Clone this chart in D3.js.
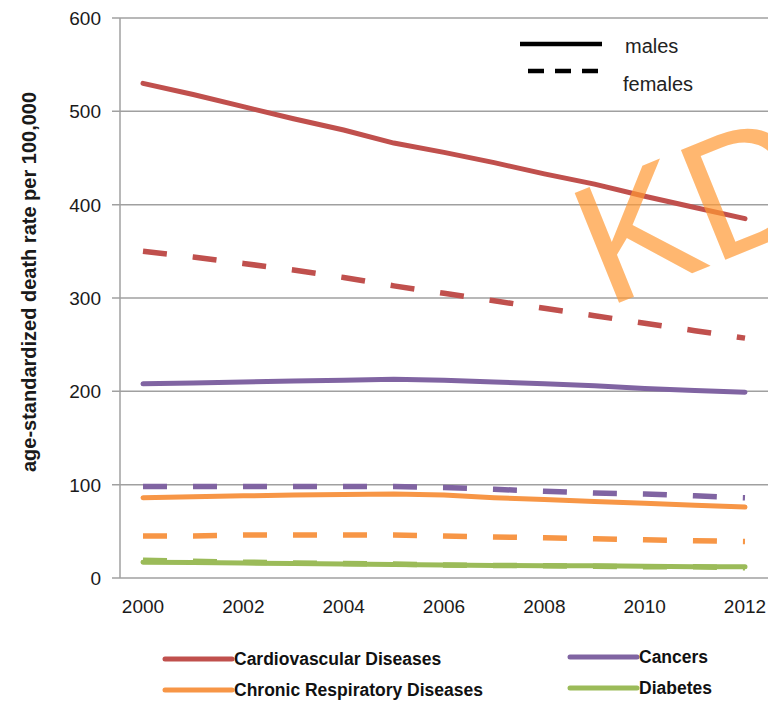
<!DOCTYPE html>
<html>
<head>
<meta charset="utf-8">
<script src="https://cdn.jsdelivr.net/npm/d3@7"></script>
<style>
  body { margin: 0; background: #fff; }
  svg { display: block; font-family: "Liberation Sans", Arial, sans-serif; }
</style>
</head>
<body>
<svg id="chart" width="768" height="701"></svg>
<script>
// values, one per year 2000..2012
const years = [2000, 2001, 2002, 2003, 2004, 2005, 2006, 2007, 2008, 2009, 2010, 2011, 2012];
const yearTicks = [2000, 2002, 2004, 2006, 2008, 2010, 2012];
const valueTicks = [0, 100, 200, 300, 400, 500, 600];

const cvdMales = [530, 518, 505, 492, 480, 466, 456, 445, 433, 422, 409, 397, 385];
const cvdFemales = [350, 344, 337, 330, 322, 313, 305, 297, 289, 281, 273, 265, 257];
const cancerMales = [208, 209, 210, 211, 212, 213, 212, 210, 208, 206, 203, 201, 199];
const cancerFemales = [98, 98, 98, 98, 98, 98, 97, 95, 93, 91, 90, 88, 86];
const crdMales = [86, 87, 88, 89, 89.5, 90, 89, 86, 84, 82, 80, 78, 76];
const crdFemales = [45, 45, 46, 46, 46, 46, 45, 44, 43, 42, 41, 40, 39];
const diabetesMales = [17, 16.5, 16, 15.5, 15, 14.5, 14, 13.5, 13, 13, 12.5, 12, 12];
const diabetesFemales = [19, 18, 17, 16, 15.5, 15, 14, 13.5, 13, 12.5, 12, 12, 11];

const series = [
    { name: "Cardiovascular Diseases", color: "#c0504d", males: cvdMales, females: cvdFemales },
    { name: "Cancers", color: "#8064a2", males: cancerMales, females: cancerFemales },
    { name: "Chronic Respiratory Diseases", color: "#f79646", males: crdMales, females: crdFemales },
    { name: "Diabetes", color: "#9bbb59", males: diabetesMales, females: diabetesFemales }
];

const svg = d3.select("#chart");

const x = d3.scaleLinear().domain([2000, 2012]).range([143, 745]);
const y = d3.scaleLinear().domain([0, 600]).range([578, 18]);
const axisX = 120;

// horizontal gridlines with small stubs left of the axis
svg.append("g")
    .selectAll("line")
    .data(valueTicks)
    .enter()
    .append("line")
    .attr("x1", axisX - 8)
    .attr("x2", 768)
    .attr("y1", d => y(d))
    .attr("y2", d => y(d))
    .style("stroke", "#a0a0a0")
    .style("stroke-width", 1.5);

svg.append("line")
    .attr("x1", axisX).attr("x2", axisX)
    .attr("y1", y(600)).attr("y2", y(0))
    .style("stroke", "#a0a0a0")
    .style("stroke-width", 1.5);

svg.append("g")
    .selectAll("text")
    .data(valueTicks)
    .enter()
    .append("text")
    .attr("x", 101)
    .attr("y", d => y(d) + 7)
    .attr("text-anchor", "end")
    .style("font-size", "19px")
    .style("fill", "#1a1a1a")
    .text(d => d);

svg.append("g")
    .selectAll("text")
    .data(yearTicks)
    .enter()
    .append("text")
    .attr("x", d => x(d))
    .attr("y", 613)
    .attr("text-anchor", "middle")
    .style("font-size", "19px")
    .style("fill", "#1a1a1a")
    .text(d => d);

svg.append("text")
    .attr("transform", "rotate(-90)")
    .attr("x", -282)
    .attr("y", 36)
    .attr("text-anchor", "middle")
    .style("font-size", "20px")
    .style("font-weight", "bold")
    .style("fill", "#1a1a1a")
    .text("age-standardized death rate per 100,000");

const line = d3.line()
    .x((d, i) => x(years[i]))
    .y(d => y(d));

const lines = svg.append("g");
series.forEach(s => {
    lines.append("path")
        .attr("d", line(s.females))
        .style("fill", "none")
        .style("stroke", s.color)
        .style("stroke-width", 5.5)
        .style("stroke-dasharray", "24,26")
        .style("stroke-linecap", "butt");
    lines.append("path")
        .attr("d", line(s.males))
        .style("fill", "none")
        .style("stroke", s.color)
        .style("stroke-width", 5)
        .style("stroke-linecap", "round");
});

// sex legend top right
svg.append("line")
    .attr("x1", 520).attr("x2", 602).attr("y1", 44).attr("y2", 44)
    .style("stroke", "#000").style("stroke-width", 4.5);
svg.append("line")
    .attr("x1", 528).attr("x2", 598).attr("y1", 71).attr("y2", 71)
    .style("stroke", "#000").style("stroke-width", 4.5)
    .style("stroke-dasharray", "16,11");
svg.append("text")
    .attr("x", 625).attr("y", 53)
    .style("font-size", "20px").style("fill", "#222")
    .text("males");
svg.append("text")
    .attr("x", 623).attr("y", 91)
    .style("font-size", "20px").style("fill", "#222")
    .text("females");

// disease legend at the bottom
const legendPos = [
    { x: 165, y: 659 },
    { x: 570, y: 657 },
    { x: 165, y: 690 },
    { x: 570, y: 688 }
];
const legend = svg.append("g");
series.forEach((s, i) => {
    const p = legendPos[i];
    legend.append("line")
        .attr("x1", p.x).attr("x2", p.x + 67)
        .attr("y1", p.y).attr("y2", p.y)
        .style("stroke", s.color)
        .style("stroke-width", 5)
        .style("stroke-linecap", "round");
    legend.append("text")
        .attr("x", p.x + 69)
        .attr("y", p.y + 6)
        .style("font-size", "17.5px")
        .style("font-weight", "bold")
        .style("fill", "#111")
        .text(s.name);
});

// watermark
svg.append("text")
    .attr("transform", "translate(606,308) rotate(-22)")
    .style("font-size", "172px")
    .style("fill", "#ff9933")
    .style("fill-opacity", 0.7)
    .text("KD");
</script>
</body>
</html>
